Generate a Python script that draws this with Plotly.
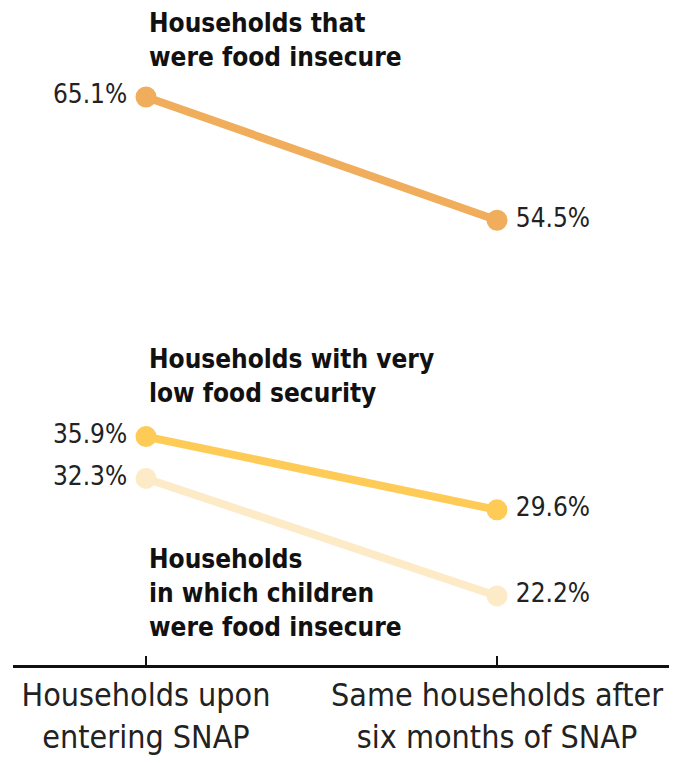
import plotly.graph_objects as go

categories = ["Households upon<br>entering SNAP", "Same households after<br>six months of SNAP"]
series_names = ["Households that<br>were food insecure",
                "Households with very<br>low food security",
                "Households<br>in which children<br>were food insecure"]
food_insecure = [65.1, 54.5]
very_low = [35.9, 29.6]
children = [32.3, 22.2]
colors = ["#F0AD5C", "#FFCB57", "#FDEBC8"]

FONT = "DejaVu Sans Condensed, Roboto Condensed, Arial Narrow, sans-serif"
xs = [0, 1]
TS = "\u2009"

fig = go.Figure()
for vals, col in zip([children, very_low, food_insecure], [colors[2], colors[1], colors[0]]):
    fig.add_trace(go.Scatter(
        x=xs, y=vals, mode="lines+markers+text",
        line=dict(color=col, width=8),
        marker=dict(color=col, size=21),
        text=[f"{vals[0]:.1f}%{TS}", f"{TS}{vals[1]:.1f}%"],
        textposition=["middle left", "middle right"],
        textfont=dict(family=FONT, size=26, color="#222"),
        cliponaxis=False, showlegend=False, hoverinfo="skip"))

ann_pos = [(0, 70.0), (0, 41.1), (0, 22.45)]
for name, (ax_, ay_) in zip(series_names, ann_pos):
    fig.add_annotation(x=ax_, y=ay_, text=f"<b>{name}</b>", showarrow=False,
                       xanchor="left", yanchor="middle", align="left", xshift=1,
                       font=dict(family=FONT, size=26, color="#111"))

fig.update_layout(
    width=677, height=747,
    margin=dict(l=5, r=0, t=0, b=90),
    paper_bgcolor="white", plot_bgcolor="white",
    xaxis=dict(range=[-0.379, 1.5356], tickvals=xs, ticktext=categories, automargin=False,
               showgrid=False, zeroline=False, showline=True, linecolor="#111", linewidth=3,
               ticks="inside", ticklen=9, tickwidth=1.5, tickcolor="#111",
               tickfont=dict(family=FONT, size=32, color="#222")),
    yaxis=dict(range=[16.26, 72.75], visible=False, showgrid=False, zeroline=False, automargin=False),
)
fig.write_html("out.html")
